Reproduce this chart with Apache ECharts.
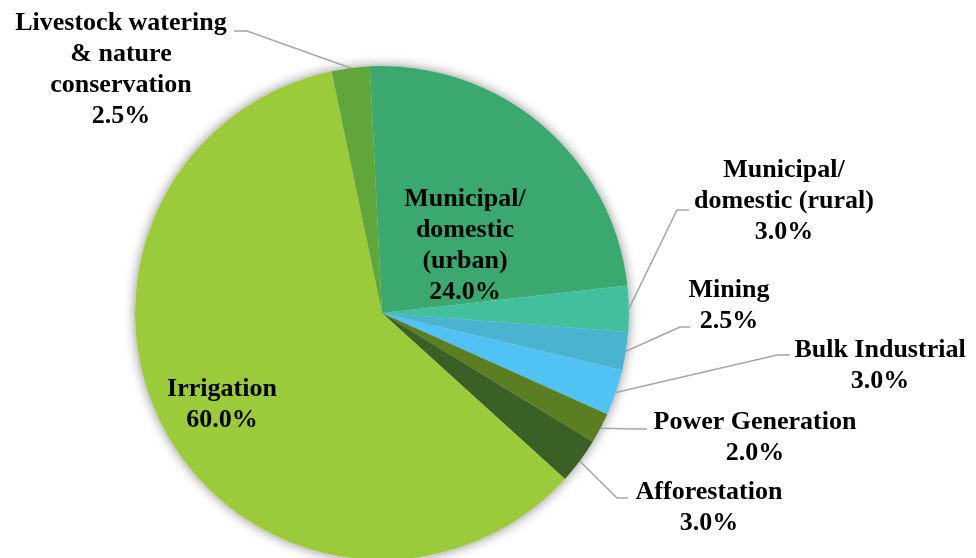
<!DOCTYPE html>
<html>
<head>
<meta charset="utf-8">
<script src="https://cdn.jsdelivr.net/npm/echarts@6/dist/echarts.min.js"></script>
<style>
  html, body { margin: 0; padding: 0; background: #fff; }
  #main { width: 976px; height: 558px; }
</style>
</head>
<body>
<div id="main"></div>
<script>
// slices, clockwise from the top
var categories = [
    'Municipal/\ndomestic\n(urban)',
    'Municipal/\ndomestic (rural)',
    'Mining',
    'Bulk Industrial',
    'Power Generation',
    'Afforestation',
    'Irrigation',
    'Livestock watering\n& nature\nconservation'
];
var shares = [24.0, 3.0, 2.5, 3.0, 2.0, 3.0, 60.0, 2.5];
var colors = ['#3AA86F', '#42C09E', '#4AB3D0', '#50C2F4', '#5B7E23', '#3A6026', '#9BCB3B', '#61A63A'];

// label placement: [centerX, centerY, elbowX, elbowY, endX] (elbow null = inside label)
var labelPos = [
    [465, 246, null],
    [784, 201, 677, 210, 689],
    [729, 306, 680, 327, 690],
    [880, 366, 777, 355, 790],
    [755, 438, 638, 429, 647],
    [709, 508, 617, 498, 628],
    [222, 405, null],
    [121, 70, 247, 31, 234]
];

var data = [];
for (var i = 0; i < categories.length; i++) {
    var inside = labelPos[i][2] == null;
    data.push({
        name: categories[i],
        value: shares[i],
        itemStyle: { color: colors[i] },
        label: { position: inside ? 'inside' : 'outside' },
        labelLine: { show: !inside }
    });
}

var chart = echarts.init(document.getElementById('main'));
var option = {
    backgroundColor: '#ffffff',
    animation: false,
    series: [
        {
            // backdrop only for the soft shadow round the pie
            type: 'pie',
            silent: true,
            z: 1,
            center: [382, 313],
            radius: 247,
            startAngle: 92.8,
            clockwise: true,
            data: shares.map(function (v, i) { return { name: categories[i], value: v }; }),
            label: { show: false },
            labelLine: { show: false },
            itemStyle: {
                color: '#ffffff',
                shadowBlur: 12,
                shadowColor: 'rgba(0,0,0,0.45)'
            }
        },
        {
            type: 'pie',
            z: 2,
            center: [382, 313],
            radius: 247,
            startAngle: 92.8,
            clockwise: true,
            avoidLabelOverlap: false,
            data: data,
            itemStyle: { borderWidth: 0 },
            label: {
                show: true,
                color: '#000',
                fontFamily: '"Liberation Serif", "Times New Roman", serif',
                fontWeight: 'bold',
                fontSize: 26,
                lineHeight: 31,
                align: 'center',
                formatter: function (p) {
                    return p.name + '\n' + p.value.toFixed(1) + '%';
                }
            },
            labelLine: {
                show: true,
                lineStyle: { color: '#A6A6A6', width: 1.5 }
            },
            labelLayout: function (params) {
                var lp = labelPos[params.dataIndex];
                var out = { x: lp[0], y: lp[1], align: 'center', verticalAlign: 'middle' };
                if (lp[2] != null && params.labelLinePoints) {
                    out.labelLinePoints = [
                        params.labelLinePoints[0],
                        [lp[2], lp[3]],
                        [lp[4], lp[3]]
                    ];
                }
                return out;
            }
        }
    ]
};
chart.setOption(option);
window.addEventListener('resize', function () {
    chart.resize();
});
</script>
</body>
</html>
